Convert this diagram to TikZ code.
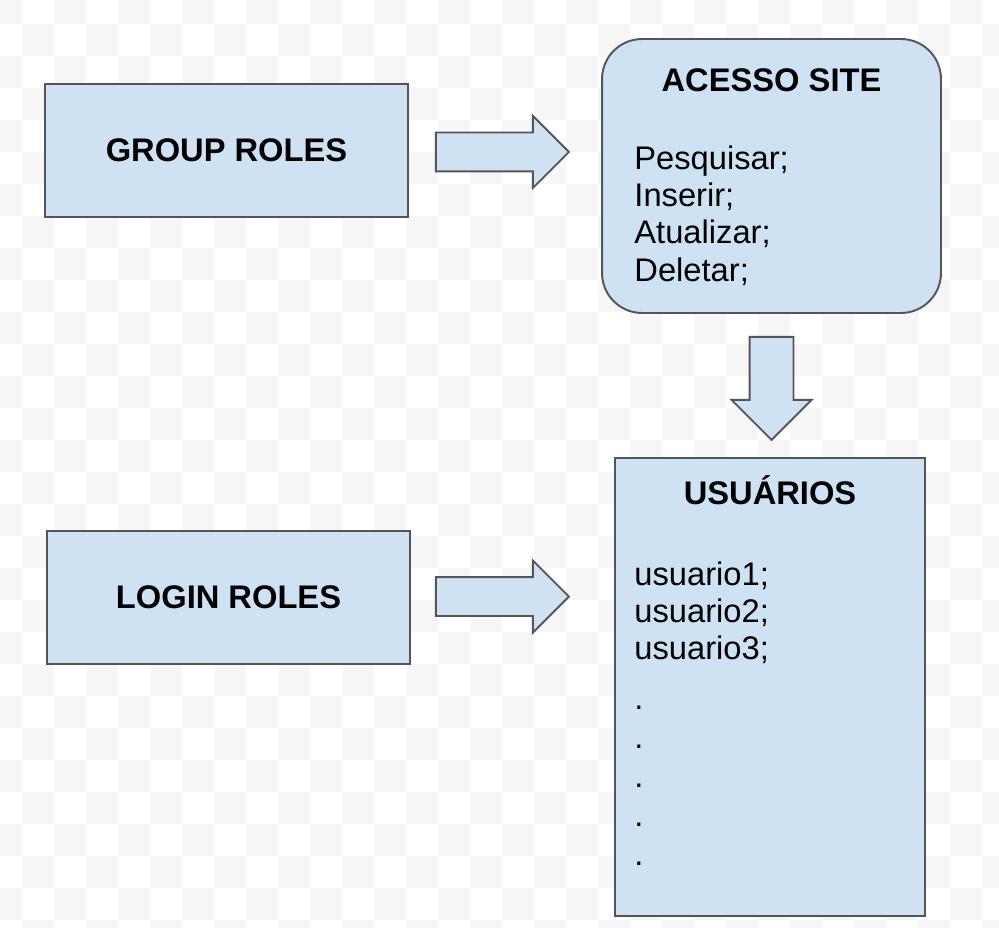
\documentclass[tikz,border=0pt]{standalone}
\usepackage{fontspec}
\setmainfont{Liberation Sans}
\usetikzlibrary{shapes.arrows,calc}
\usetikzlibrary{positioning}
\definecolor{boxfill}{HTML}{CFE2F3}
\definecolor{boxline}{HTML}{555555}
\definecolor{checkgray}{HTML}{F6F6F6}
\tikzstyle{role} = [rectangle, minimum width=7.26cm, minimum height=2.66cm, text centered, fill=boxfill, draw=boxline, line width=1.1pt, font=\fontsize{18.6}{21.3}\selectfont\bfseries]
\tikzstyle{panel} = [rectangle, fill=boxfill, draw=boxline, line width=1.1pt]
\tikzstyle{title} = [font=\fontsize{18.6}{21.3}\selectfont\bfseries, inner sep=0pt, anchor=base]
\tikzstyle{items} = [font=\fontsize{18.6}{21.3}\selectfont, align=left, inner sep=0pt, anchor=north west]
\tikzstyle{blockarrow} = [single arrow, fill=boxfill, draw=boxline, line width=1.1pt, inner xsep=0pt, anchor=tail]

\begin{document}
\begin{tikzpicture}[x=0.02cm, y=-0.02cm, node distance=0.52cm]
\useasboundingbox (0,0) rectangle (999,928);
% background squares
\begin{scope}
 \clip (0,0) rectangle (999,928);
 \foreach \i in {0,...,31}
  \foreach \j in {0,...,29}{
   \pgfmathtruncatemacro\chk{mod(\i+\j,2)}
   \ifnum\chk=0 \fill[checkgray] (-10+32*\i,-8+32*\j) rectangle ++(32,32); \fi
  }
\end{scope}

 \node (grp) [role] at (226.5,150.5) {GROUP ROLES};
 \node (login) [role] at (228.5,597.5) {LOGIN ROLES};

 \node (acesso) [panel, rounded corners=0.8cm, minimum width=6.78cm, minimum height=5.48cm] at (771.5,176) {};
 \node (acessotit) [title] at ($(acesso.north)+(0,53)$) {ACESSO SITE};
 \node (acessolist) [items] at ($(acesso.north west)+(33,107)$) {Pesquisar;\\Inserir;\\Atualizar;\\Deletar;};

 \node (usuarios) [panel, minimum width=6.2cm, minimum height=9.16cm] at (770,687) {};
 \node (usuariostit) [title] at ($(usuarios.north)+(0,47)$) {USUÁRIOS};
 \node (usuarioslist) [items] at ($(usuarios.north west)+(20,104)$) {usuario1;\\usuario2;\\usuario3;\\[0.24cm]
  .\\[0.03cm] .\\[0.03cm] .\\[0.03cm] .\\[0.03cm] .};

 \node (arr1) [blockarrow, minimum height=2.66cm, inner ysep=0.37cm, single arrow head extend=0.33cm] at ($(grp.east)+(26,1.5)$) {};
 \node (arr2) [blockarrow, minimum height=2.66cm, inner ysep=0.37cm, single arrow head extend=0.33cm] at ($(login.east)+(24,-1)$) {};
 \node (arr3) [blockarrow, rotate=-90, minimum height=2.06cm, inner ysep=0.42cm, single arrow head extend=0.36cm] at ($(acesso.south)+(0,22)$) {};
\end{tikzpicture}
\end{document}
